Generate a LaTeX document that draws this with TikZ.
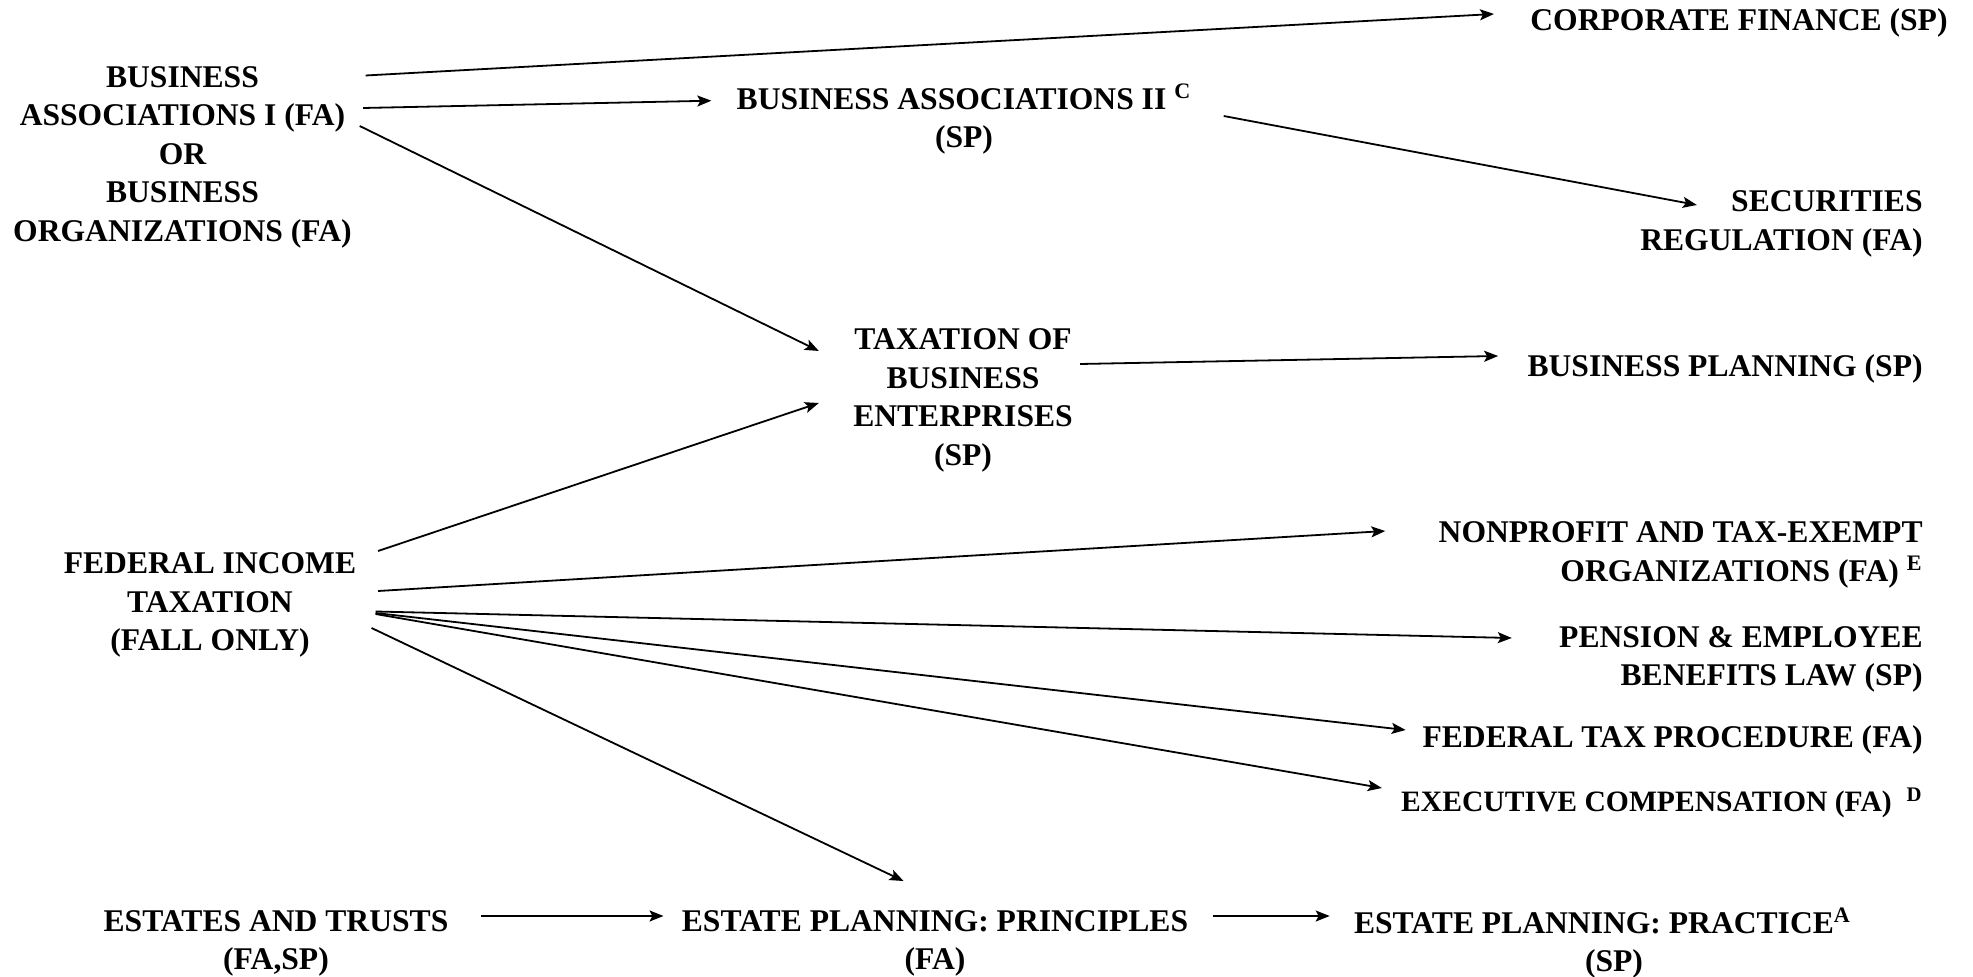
\documentclass[tikz,border=0pt]{standalone}
\usepackage{fontspec}
\setmainfont{Liberation Serif}
\usetikzlibrary{arrows.meta, calc}
\tikzstyle{course_op} = [inner sep=0pt, align=center, font=\fontsize{15.8pt}{19.25pt}\selectfont\bfseries]
\tikzstyle{course_right} = [course_op, align=right, anchor=east]
\tikzstyle{link_arrow} = [line width=0.9pt, -{Stealth[length=7pt, width=5.5pt, inset=1.5pt]}]

\begin{document}
\begin{tikzpicture}[x=0.5pt, y=-0.5pt]
\useasboundingbox (0,0) rectangle (1973,977);
% left column
\node (ba1) [course_op] at (182.5,157) {BUSINESS\\ASSOCIATIONS I (FA)\\OR\\BUSINESS\\ORGANIZATIONS (FA)};
\node (fit) [course_op] at (210,605) {FEDERAL INCOME\\TAXATION\\(FALL ONLY)};
\node (et) [course_op] at (276,943.5) {ESTATES AND TRUSTS\\(FA,SP)};
% middle
\node (ba2) [course_op] at (964,119.5) {BUSINESS ASSOCIATIONS II \textsuperscript{C}\\(SP)};
\node (tbe) [course_op] at (963,400.5) {TAXATION OF\\BUSINESS\\ENTERPRISES\\(SP)};
\node (epp) [course_op] at (935,943.5) {ESTATE PLANNING: PRINCIPLES\\(FA)};
\node (epr) [course_op] at (1602.5,943.5) {ESTATE PLANNING: PRACTICE\textsuperscript{A}\\\hspace*{11.5pt}(SP)};
% right column
\node (cf) [course_right] at (1948,23) {CORPORATE FINANCE (SP)};
\node (sec) [course_right] at (1923,224) {SECURITIES\\REGULATION (FA)};
\node (bp) [course_right] at (1923,369) {BUSINESS PLANNING (SP)};
\node (np) [course_right] at (1923,555) {NONPROFIT AND TAX-EXEMPT\\ORGANIZATIONS (FA) \textsuperscript{E}};
\node (pe) [course_right] at (1923,659.5) {PENSION \& EMPLOYEE\\BENEFITS LAW (SP)};
\node (ftp) [course_right] at (1923,740) {FEDERAL TAX PROCEDURE (FA)};
\node (ec) [course_right, font=\fontsize{14.8pt}{18pt}\selectfont\bfseries] at (1923,803) {EXECUTIVE COMPENSATION (FA)~~\textsuperscript{D}};
% arrows
\draw[link_arrow] ($(ba1.east)+(13.5,-81.5)$) -- ($(cf.west)+(-36,-9)$);
\draw[link_arrow] ($(ba1.east)+(11,-49)$) -- ($(ba2.west)+(-25,-18.8)$);
\draw[link_arrow] ($(ba1.east)+(7.5,-31)$) -- ($(tbe.west)+(-34,-49.5)$);
\draw[link_arrow] ($(ba2.east)+(32,-3.5)$) -- ($(sec.west)+(57,-19)$);
\draw[link_arrow] ($(tbe.east)+(7,-36.5)$) -- ($(bp.west)+(-29,-13)$);
\draw[link_arrow] ($(fit.east)+(21.5,-54)$) -- ($(tbe.west)+(-34,2.5)$);
\draw[link_arrow] ($(fit.east)+(21.5,-14)$) -- ($(np.west)+(-53,-24)$);
\draw[link_arrow] ($(fit.east)+(19,6.5)$) -- ($(pe.west)+(-47,-21.5)$);
\draw[link_arrow] ($(fit.east)+(19,8)$) -- ($(ftp.west)+(-16.5,-10)$);
\draw[link_arrow] ($(fit.east)+(19,9)$) -- ($(ec.west)+(-19,-15)$);
\draw[link_arrow] ($(fit.east)+(15,23)$) -- ($(epp.center)+(-31.5,-62.5)$);
\draw[link_arrow] ($(et.east)+(32,-27.5)$) -- ($(epp.west)+(-18,-27.5)$);
\draw[link_arrow] ($(epp.east)+(24,-27.5)$) -- ($(epr.west)+(-24,-27.5)$);
\end{tikzpicture}
\end{document}
